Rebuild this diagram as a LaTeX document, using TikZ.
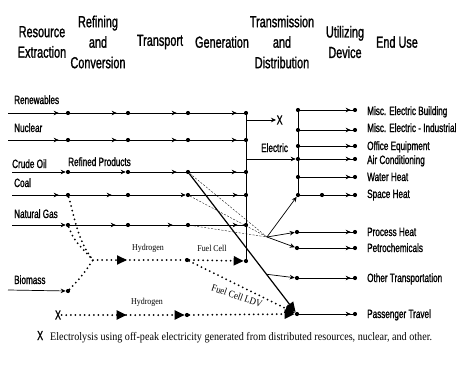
\documentclass[tikz,border=0pt]{standalone}
\usepackage{fontspec}
\usetikzlibrary{arrows.meta,decorations.markings,calc}
\newfontfamily\labf[FakeStretch=0.68,FakeBold=1.2]{Liberation Sans}
\newfontfamily\serf[FakeStretch=0.88]{Liberation Serif}
\tikzset{
  dotn/.style={circle,fill,inner sep=0pt,minimum size=4.2pt},
  ln/.style={line width=0.7pt},
  am/.style={postaction={decorate},decoration={markings,mark=at position #1 with {\arrow{Stealth[length=5pt,width=4.5pt]}}}},
  ae/.style={-{Stealth[length=5pt,width=4.5pt]}},
  dotl/.style={line width=2pt,line cap=round,dash pattern=on 0pt off 4.6pt},
  tm/.style={postaction={decorate},decoration={markings,mark=at position #1 with {\arrow{Triangle[length=10pt,width=9pt]}}}},
  te/.style={-{Triangle[length=10pt,width=9pt]}},
  dsh/.style={line width=0.35pt,dash pattern=on 2pt off 1.5pt},
  hdr/.style={font=\labf\fontsize{16}{20.5}\selectfont,align=center,inner sep=0pt},
  lbl/.style={font=\labf\fontsize{12}{14}\selectfont,inner sep=0pt,anchor=base west},
  sl/.style={font=\serf\fontsize{9}{10}\selectfont,inner sep=0pt},
}
\begin{document}
\begin{tikzpicture}[x=1pt,y=-1pt]
\useasboundingbox (0,0) rectangle (456,370);
% headers
\node[hdr] (h1) at (42,42) {Resource\\Extraction};
\node[hdr] (h2) at (98,42) {Refining\\and\\Conversion};
\node[hdr] (h3) at (160,42) {Transport};
\node[hdr] (h4) at (222,42) {Generation};
\node[hdr] (h5) at (282,42) {Transmission\\and\\Distribution};
\node[hdr] (h6) at (345,42) {Utilizing\\Device};
\node[hdr] (h7) at (397,42) {End Use};
% left labels
\node[lbl] (lR) at (14,104) {Renewables};
\node[lbl] (lN) at (14,132) {Nuclear};
\node[lbl] (lC) at (12,168) {Crude Oil};
\node[lbl] (lRP) at (68,166) {Refined Products};
\node[lbl] (lK) at (14,187) {Coal};
\node[lbl] (lG) at (14,218) {Natural Gas};
\node[lbl] (lB) at (14,284) {Biomass};
% start coordinates
\coordinate (sR) at (8,113);
\coordinate (sN) at (8,140);
\coordinate (sC) at (12,172);
\coordinate (sK) at (12,195);
\coordinate (sG) at (12,225);
\coordinate (sB) at (8,290);
% row dots
\foreach \n/\y in {r/113,n/140,c/172,k/195,g/225}{
  \node[dotn] (\n1) at (68,\y) {};
  \node[dotn] (\n2) at (128,\y) {};
  \node[dotn] (\n3) at (188,\y) {};
}
\node[dotn] (v1) at (246,113) {};
\node[dotn] (v2) at (246,140) {};
\node[dotn] (v3) at (246,172) {};
\node[dotn] (v4) at (246,195) {};
\node[dotn] (v5) at (246,225) {};
\node[dotn] (v6) at (246,261) {};
\node[dotn] (b1) at (68,291) {};
% rows
\draw[ln,am=-7pt] (sR) -- (r1);
\draw[ln,am=-9pt] (r1) -- (r2);
\draw[ln,am=-9pt] (r2) -- (r3);
\draw[ln,am=-7pt] (r3) -- (v1);
\draw[ln,am=-7pt] (sN) -- (n1);
\draw[ln,am=-9pt] (n1) -- (n2);
\draw[ln,am=-9pt] (n2) -- (n3);
\draw[ln,am=-7pt] (n3) -- (v2);
\draw[ln,ae] (sC) -- (c1);
\draw[ln,ae] (c1) -- (c2);
\draw[ln,am=-9pt] (c2) -- (c3);
\draw[ln,am=-7pt] (c3) -- (v3);
\draw[ln,am=-7pt] (sK) -- (k1);
\draw[ln,am=-14pt] (k1) -- (k2);
\draw[ln,ae] (k2) -- (k3);
\draw[ln,am=-6pt] (k3) -- (v4);
\draw[ln,ae] (sG) -- (g1);
\draw[ln,am=-10pt] (g1) -- (g2);
\draw[ln,am=-13pt] (g2) -- (g3);
\draw[ln,am=-6pt] (g3) -- (v5);
\draw[ln,ae] (sB) -- (b1);
% vertical transmission line
\draw[ln] (v1) -- (v2) -- (v3) -- (v4) -- (v5) -- (v6);
% X branch and Electric
\coordinate (xb) at (246,120);
\node[font=\labf\fontsize{13}{14}\selectfont,inner sep=0.5pt,anchor=west] (xl) at (276,120) {X};
\draw[ln,ae] (xb) -- (xl);
\node[lbl] (lE) at (261,152) {Electric};
\coordinate (eb) at (246,159);
% right vertical
\foreach \i/\y in {1/110,2/130,3/146,4/159,5/177,6/195}{
  \node[dotn] (d\i) at (298,\y) {};
  \node[dotn] (o\i) at (355,\y) {};
}
\draw[ln,ae] (eb) -- (d4);
\draw[ln] (d1) -- (d2) -- (d3) -- (d4) -- (d5) -- (d6);
\foreach \i in {1,...,5}{ \draw[ln,am=-2pt] (d\i) -- (o\i); }
\node[dotn] (sh) at (322,195) {};
\draw[ln] (d6) -- (sh);
\draw[ln,am=-2pt] (sh) -- (o6);
% lower outputs
\foreach \i/\y in {1/232,2/248,3/278,4/314}{
  \node[dotn] (p\i) at (297,\y) {};
  \node[dotn] (q\i) at (355,\y) {};
  \draw[ln,am=-2pt] (p\i) -- (q\i);
}
% end-use labels
\node[lbl] (e1) at (367,115) {Misc. Electric Building};
\node[lbl] (e2) at (367,132) {Misc. Electric - Industrial};
\node[lbl] (e3) at (367,150) {Office Equipment};
\node[lbl] (e4) at (367,164) {Air Conditioning};
\node[lbl] (e5) at (367,181) {Water Heat};
\node[lbl] (e6) at (367,198) {Space Heat};
\node[lbl] (e7) at (367,236) {Process Heat};
\node[lbl] (e8) at (367,252) {Petrochemicals};
\node[lbl] (e9) at (367,282) {Other Transportation};
\node[lbl] (e10) at (367,318) {Passenger Travel};
% hub
\coordinate (hub) at (267,237);
\draw[dsh] (c3) -- (hub);
\draw[dsh] (k3) -- (hub);
\draw[dsh] (g3) -- (hub);
\draw[ln,ae] (hub) -- (d6);
\draw[ln,ae] (hub) -- (p1);
\draw[ln,ae] (hub) -- (p2);
% thick diagonal
\draw[line width=1.2pt,te] (c3) -- (p4);
\coordinate (ot) at ($(c3)!0.72!(p4)$);
\draw[ln,ae] (ot) -- (p3);
% dotted hydrogen paths
\coordinate (m) at (93,260);
\draw[dotl] (k1) .. controls (74,215) and (78,242) .. (m);
\draw[dotl] (g1) .. controls (74,240) .. (m);
\draw[dotl] (b1) .. controls (82,276) .. (m);
\node[dotn] (fc) at (187,260) {};
\draw[dotl,tm=34pt] (m) -- (fc);
\draw[dotl,te] (fc) -- (v6);
\draw[dotl,te] (fc) -- (p4);
\node[font=\labf\fontsize{13}{14}\selectfont,inner sep=0.5pt] (lx) at (58,315) {X};
\node[dotn] (lh) at (187,315) {};
\draw[dotl,tm=-58pt,te] (lx) -- (lh);
\draw[dotl,te] (lh) -- (p4);
\node[sl] (hy1) at (148,248) {Hydrogen};
\node[sl] (fcl) at (212,248) {Fuel Cell};
\node[sl] (hy2) at (147,302) {Hydrogen};
\node[sl,rotate=-19,font=\serf\fontsize{10}{11}\selectfont] (ldv) at (237,296) {Fuel Cell LDV};
% footnote
\node[font=\labf\fontsize{13}{14}\selectfont,inner sep=0pt,anchor=base west] (fx) at (37,340) {X};
\node[font=\serf\fontsize{11.5}{13}\selectfont,inner sep=0pt,anchor=base west] (ft) at (50,340) {Electrolysis using off-peak electricity generated from distributed resources, nuclear, and other.};
\end{tikzpicture}
\end{document}
